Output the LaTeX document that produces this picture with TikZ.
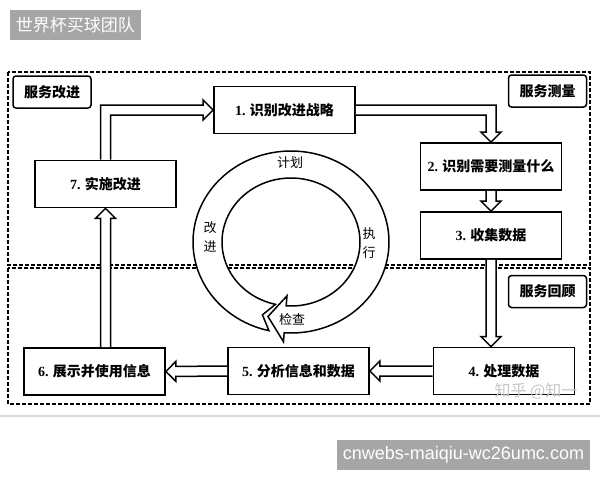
\documentclass[tikz,border=0pt]{standalone}
\usepackage{fontspec}
\setmainfont{Noto Sans CJK SC}
\newfontfamily\numf{Liberation Serif}
\newfontfamily\urlf{Liberation Sans}
\usetikzlibrary{calc}
\definecolor{tagbg}{HTML}{A6A6A6}
\tikzset{
 stepbox/.style={draw, line width=1.8pt, minimum width=141pt, minimum height=47pt, inner sep=0pt, font=\fontsize{14}{16}\selectfont\bfseries, fill=white},
 areabox/.style={draw, line width=1.5pt, rounded corners=3pt, minimum width=78pt, minimum height=32pt, inner sep=0pt, font=\fontsize{14}{16}\selectfont\bfseries, fill=white},
 zone/.style={draw, line width=1.2pt, dash pattern=on 4pt off 2pt},
 harr/.style={draw, line width=1.5pt, fill=white, line join=miter},
 ringtext/.style={font=\fontsize{13}{19}\selectfont, align=center, inner sep=0pt},
 tag/.style={fill=tagbg, text=white, inner sep=0pt, minimum height=30pt}
}
\newcommand{\harrow}[2]{%
  \coordinate (hA) at (#1); \coordinate (hB) at (#2);
  \coordinate (hH) at ($(hB)!10pt!(hA)$);
  \draw[harr] ($(hA)!5pt!90:(hB)$) -- ($(hH)!5pt!-90:(hA)$) -- ($(hH)!10pt!-90:(hA)$) -- (hB)
     -- ($(hH)!10pt!90:(hA)$) -- ($(hH)!5pt!90:(hA)$) -- ($(hA)!5pt!-90:(hB)$);
}
\begin{document}
\begin{tikzpicture}[x=1pt,y=-1pt]
\useasboundingbox (0,0) rectangle (600,480);
\fill[white] (0,0) rectangle (600,480);
\node[tag, minimum width=131pt, font=\fontsize{17}{19}\selectfont] (t1) at (75.5,25) {世界杯买球团队};
\draw[line width=1.5pt, black!15] (0,416) -- (600,416);
\draw[zone] (8,72) rectangle (590,265);
\draw[zone] (8,268) rectangle (590,404);
% ring
\filldraw[fill=white, line width=1.5pt, line join=miter]
 plot[domain=103:454, samples=140] ({291+98*cos(\x)},{242+91*sin(\x)})
 -- ({291+108*cos(454)},{242+100*sin(454)})
 -- ({291+83.5*cos(466)},{242+77.5*sin(466)})
 -- ({291+58*cos(454)},{242+54*sin(454)})
 -- plot[domain=454:103, samples=140] ({291+69*cos(\x)},{242+64*sin(\x)})
 -- ({291+83.5*cos(110)},{242+77.5*sin(110)})
 -- cycle;
\node[ringtext] (pl) at (290,163) {计划};
\node[ringtext] (ex) at (369,243) {执\\行};
\node[ringtext] (im) at (210,237) {改\\进};
\node[ringtext] (ck) at (292,320) {检查};
% area labels
\node[areabox] (a1) at (52,92) {服务改进};
\node[areabox] (a2) at (547.5,91) {服务测量};
\node[areabox] (a3) at (547.5,291.5) {服务回顾};
% steps
\node[stepbox] (b1) at (284.5,110) {{\numf 1.} 识别改进战略};
\node[stepbox] (b2) at (491,166.5) {{\numf 2.} 识别需要测量什么};
\node[stepbox] (b3) at (491,235.5) {{\numf 3.} 收集数据};
\node[stepbox] (b4) at (504,371) {{\numf 4.} 处理数据};
\node[stepbox] (b5) at (298.5,371) {{\numf 5.} 分析信息和数据};
\node[stepbox] (b6) at (94.5,371.5) {{\numf 6.} 展示并使用信息};
\node[stepbox] (b7) at (105.5,184) {{\numf 7.} 实施改进};
% arrows
\coordinate (c71) at (b7.north |- b1.west);
\draw[harr] ($(b7.north)+(-5,0)$) -- ($(c71)+(-5,-5)$) -- ($(b1.west)+(-10,-5)$) -- ($(b1.west)+(-10,-10)$)
  -- (b1.west) -- ($(b1.west)+(-10,10)$) -- ($(b1.west)+(-10,5)$) -- ($(c71)+(5,5)$) -- ($(b7.north)+(5,0)$);
\coordinate (c12) at (b2.north |- b1.east);
\draw[harr] ($(b1.east)+(0,-5)$) -- ($(c12)+(5,-5)$) -- ($(b2.north)+(5,-10)$) -- ($(b2.north)+(10,-10)$)
  -- (b2.north) -- ($(b2.north)+(-10,-10)$) -- ($(b2.north)+(-5,-10)$) -- ($(c12)+(-5,5)$) -- ($(b1.east)+(0,5)$);
\harrow{b2.south}{b3.north}
\harrow{b3.south}{b3.south |- b4.north}
\harrow{b4.west}{b5.east}
\harrow{b5.west}{b6.east}
\harrow{b7.south |- b6.north}{b7.south}
% watermark
\node[text=black!22, font=\fontsize{16}{18}\selectfont, inner sep=0pt] (wm) at (536,391) {知乎 @知一};
\node[tag, minimum width=253pt, font=\urlf\fontsize{18}{20}\selectfont] (t2) at (463.5,455) {cnwebs-maiqiu-wc26umc.com};
\end{tikzpicture}
\end{document}
